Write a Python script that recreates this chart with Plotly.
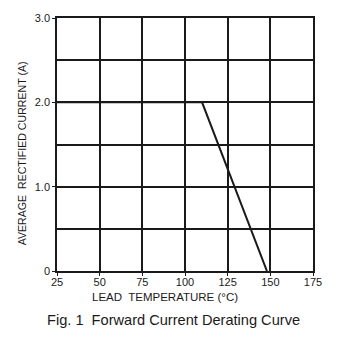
import plotly.graph_objects as go

# Derating curve: rated current held flat, then linear fall-off to zero
lead_temp_c = [25, 110, 148]
avg_current_a = [2.0, 2.0, 0.0]

x_ticks = [25, 50, 75, 100, 125, 150, 175]
y_ticks = [0, 1.0, 2.0, 3.0]
y_tick_text = ["0", "1.0", "2.0", "3.0"]

ink = "#1a1a1a"
font = "Liberation Sans, Arial, sans-serif"

fig = go.Figure()
fig.add_trace(go.Scatter(
    x=lead_temp_c, y=avg_current_a, mode="lines",
    line=dict(color=ink, width=2), showlegend=False, hoverinfo="skip",
))

W, H = 359, 341
L, R, T, B = 57, 46, 13, 70
pw, ph = W - L - R, H - T - B


def px_x(x):
    return (x - L) / pw


def px_y(y):
    return (H - B - y) / ph


fig.update_layout(
    width=W, height=H,
    margin=dict(l=L, r=R, t=T, b=B),
    paper_bgcolor="white", plot_bgcolor="white",
    font=dict(family=font, size=11, color=ink),
    xaxis=dict(
        range=[25, 175], tickvals=x_ticks, ticks="outside", ticklen=3,
        tickcolor=ink, showgrid=True, gridcolor=ink, gridwidth=1.5,
        showline=True, linecolor=ink, linewidth=1.5, mirror=True,
        zeroline=False, tickfont=dict(size=11), ticklabelstandoff=-3,
    ),
    yaxis=dict(
        range=[0, 3.0], tickvals=y_ticks, ticktext=y_tick_text,
        ticks="outside", ticklen=3, tickcolor=ink,
        showgrid=True, gridcolor=ink, gridwidth=1.5,
        minor=dict(dtick=0.5, tick0=0, showgrid=True, gridcolor=ink, gridwidth=1.5, ticks=""),
        showline=True, linecolor=ink, linewidth=1.5, mirror=True,
        zeroline=False, tickfont=dict(size=11),
    ),
    annotations=[
        dict(text="LEAD  TEMPERATURE (°C)", xref="paper", yref="paper",
             x=px_x(165), y=px_y(298), xanchor="center", yanchor="middle",
             showarrow=False, font=dict(size=11.5, color=ink, family=font)),
        dict(text="AVERAGE  RECTIFIED CURRENT (A)", xref="paper", yref="paper",
             x=px_x(22), y=px_y(151), xanchor="center", yanchor="middle",
             textangle=-90, showarrow=False,
             font=dict(size=10.6, color=ink, family=font)),
        dict(text="Fig. 1  Forward Current Derating Curve", xref="paper", yref="paper",
             x=px_x(173), y=px_y(321), xanchor="center", yanchor="middle",
             showarrow=False, font=dict(size=14.6, color=ink, family=font)),
    ],
)

fig.write_html("out.html")
